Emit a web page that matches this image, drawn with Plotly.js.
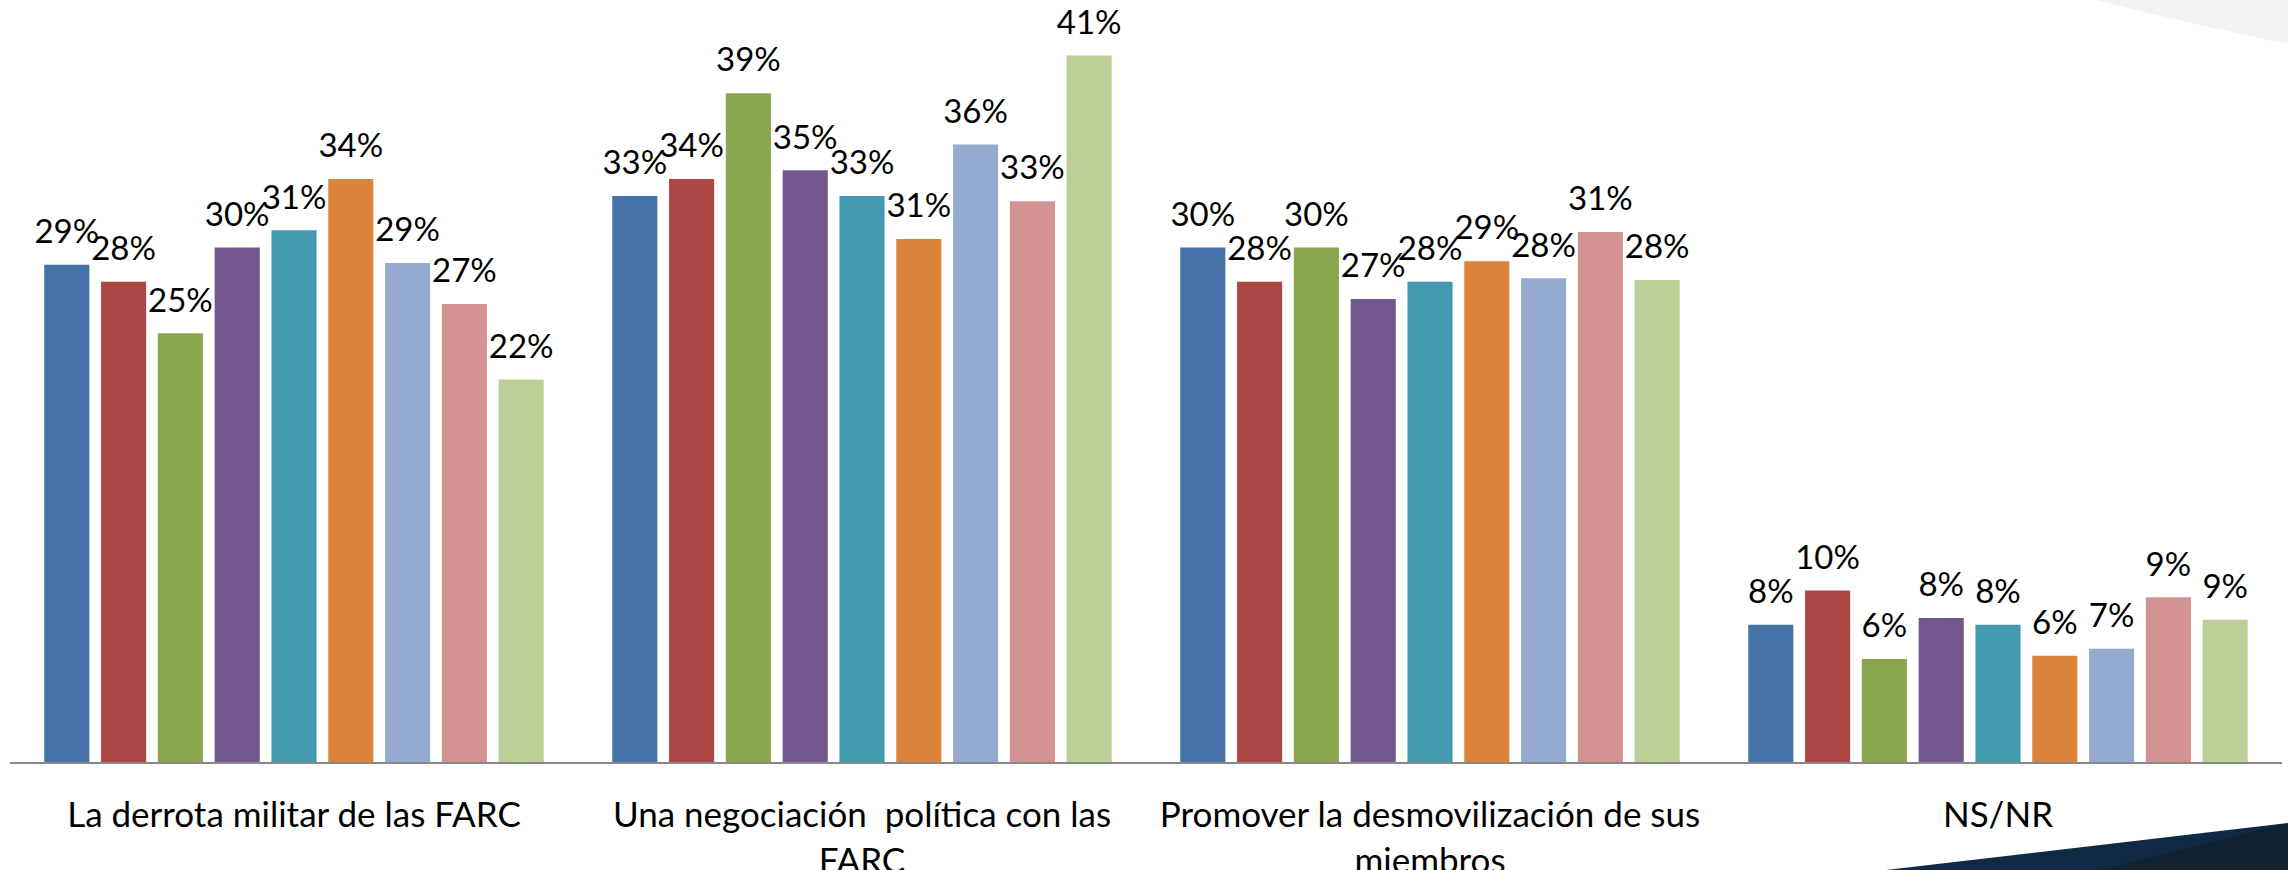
<!DOCTYPE html>
<html>
<head>
<meta charset="utf-8">
<script src="https://cdn.plot.ly/plotly-3.0.1.min.js"></script>
<style>
  html, body { margin: 0; padding: 0; background: #ffffff; }
  #chart { width: 2288px; height: 870px; }
</style>
</head>
<body>
<div id="chart"></div>
<script>
// ---- Data ----
const categories = [
  "La derrota militar de las FARC",
  "Una negociación  política con las<br>FARC",
  "Promover la desmovilización de sus<br>miembros",
  "NS/NR"
];

const serie1 = [29.0, 33.0, 30.0, 8.0];
const serie2 = [28.0, 34.0, 28.0, 10.0];
const serie3 = [25.0, 39.0, 30.0, 6.0];
const serie4 = [30.0, 34.5, 27.0, 8.4];
const serie5 = [31.0, 33.0, 28.0, 8.0];
const serie6 = [34.0, 30.5, 29.2, 6.2];
const serie7 = [29.1, 36.0, 28.2, 6.6];
const serie8 = [26.7, 32.7, 30.9, 9.6];
const serie9 = [22.3, 41.2, 28.1, 8.3];

const labels1 = ["29%", "33%", "30%", "8%"];
const labels2 = ["28%", "34%", "28%", "10%"];
const labels3 = ["25%", "39%", "30%", "6%"];
const labels4 = ["30%", "35%", "27%", "8%"];
const labels5 = ["31%", "33%", "28%", "8%"];
const labels6 = ["34%", "31%", "29%", "6%"];
const labels7 = ["29%", "36%", "28%", "7%"];
const labels8 = ["27%", "33%", "31%", "9%"];
const labels9 = ["22%", "41%", "28%", "9%"];

const seriesNames = ["Serie 1", "Serie 2", "Serie 3", "Serie 4", "Serie 5",
                     "Serie 6", "Serie 7", "Serie 8", "Serie 9"];

// ---- Styling ----
const colors = ["#4572A7", "#AA4744", "#8AA64E", "#72588D", "#4299B0",
                "#DC843E", "#95AACF", "#D39292", "#BACE96"];

const allValues = [serie1, serie2, serie3, serie4, serie5, serie6, serie7, serie8, serie9];
const allLabels = [labels1, labels2, labels3, labels4, labels5, labels6, labels7, labels8, labels9];

const FONT = "Lato, 'Open Sans', 'Liberation Sans', sans-serif";

const W = 2288, H = 870;
const M = { l: 10, r: 6, t: 9, b: 108 };
const plotW = W - M.l - M.r;
const plotH = H - M.t - M.b;
const pxPerUnit = 17.15;

const traces = [];
allValues.forEach((vals, i) => {
  traces.push({
    type: "bar",
    name: seriesNames[i],
    x: categories,
    y: vals,
    marker: { color: colors[i], line: { width: 0 } },
    hoverinfo: "skip",
    showlegend: false
  });
});
// data labels placed above each bar (grouped the same way as the bars)
allValues.forEach((vals, i) => {
  traces.push({
    type: "scatter",
    mode: "markers+text",
    name: seriesNames[i] + " label",
    x: categories,
    y: vals,
    text: allLabels[i],
    textposition: "top center",
    textfont: { family: FONT, size: 33, color: "#000000" },
    marker: { size: 20, color: "rgba(0,0,0,0)" },
    cliponaxis: false,
    hoverinfo: "skip",
    showlegend: false
  });
});

// decorative slide corners (paper coordinates)
const X = px => (px - M.l) / plotW;
const Y = py => (H - M.b - py) / plotH;

const shapes = [
  {
    type: "path", xref: "paper", yref: "paper", layer: "above",
    path: `M ${X(2095)},${Y(0)} Q ${X(2200)},${Y(26)} ${X(2288)},${Y(44)} L ${X(2288)},${Y(0)} Z`,
    fillcolor: "#f3f3f3", line: { width: 0 }
  },
  {
    type: "path", xref: "paper", yref: "paper", layer: "above",
    path: `M ${X(1886)},${Y(870)} L ${X(2288)},${Y(823)} L ${X(2288)},${Y(870)} Z`,
    fillcolor: "#0f2a42", line: { width: 0 }
  },
  {
    type: "path", xref: "paper", yref: "paper", layer: "above",
    path: `M ${X(2100)},${Y(870)} L ${X(2288)},${Y(823)} L ${X(2288)},${Y(870)} Z`,
    fillcolor: "#111b25", opacity: 0.55, line: { width: 0 }
  }
];

const layout = {
  width: W, height: H,
  margin: M,
  paper_bgcolor: "#ffffff",
  plot_bgcolor: "#ffffff",
  barmode: "group",
  bargap: 0.10,
  bargroupgap: 0.206,
  scattermode: "group",
  scattergap: 0.10,
  showlegend: false,
  font: { family: FONT, color: "#000000" },
  xaxis: {
    type: "category",
    showline: true,
    linecolor: "#898989",
    linewidth: 2,
    ticks: "",
    showgrid: false,
    zeroline: false,
    tickfont: { family: FONT, size: 35, color: "#000000" },
    ticklabelstandoff: 21,
    fixedrange: true
  },
  yaxis: {
    visible: false,
    range: [0, plotH / pxPerUnit],
    showgrid: false,
    zeroline: false,
    fixedrange: true
  },
  shapes: shapes
};

Plotly.newPlot("chart", traces, layout, { displayModeBar: false, staticPlot: true });
</script>
</body>
</html>
